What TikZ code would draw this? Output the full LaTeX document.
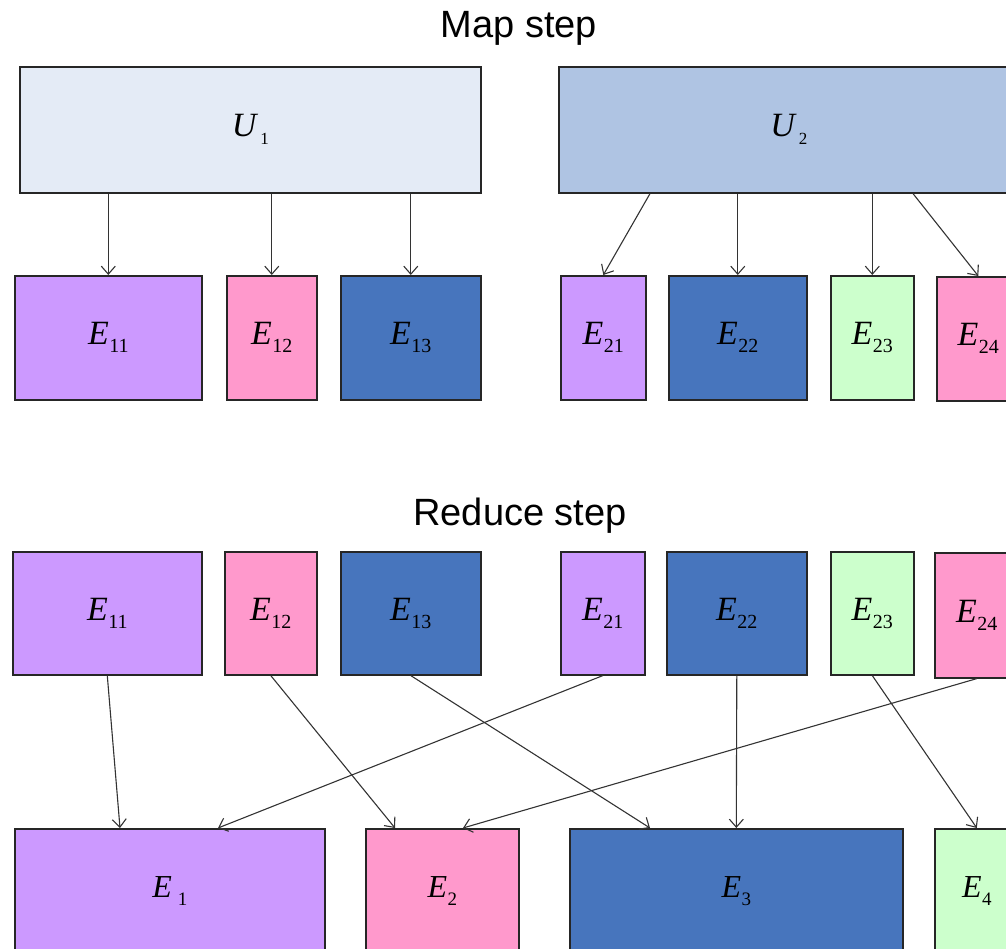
\documentclass[tikz,border=0pt]{standalone}
\usepackage{fontspec}
\setmainfont{Liberation Serif}
\newfontfamily\headfont{Liberation Sans}
\usetikzlibrary{arrows.meta,calc}

\definecolor{uone}{HTML}{E4EBF6}
\definecolor{utwo}{HTML}{AFC4E3}
\definecolor{lilac}{HTML}{CC99FF}
\definecolor{rose}{HTML}{FF99CC}
\definecolor{steel}{HTML}{4775BD}
\definecolor{mint}{HTML}{CCFFCC}

% italic symbol with a lowered upright index
\newcommand{\symlab}[5]{{\fontsize{#3}{#3}\selectfont\itshape #1}\kern#5{\fontsize{#4}{#4}\selectfont\raisebox{-8pt}{#2}}}
\newcommand{\elab}[1]{\symlab{E}{#1}{34}{20}{0.5pt}}
\newcommand{\ulab}[1]{\symlab{U}{#1}{34}{17}{4pt}}
\newcommand{\rlab}[2]{\symlab{E}{#1}{32}{19}{#2}}

\tikzset{
  box/.style={draw=black!85, line width=1.6pt, inner sep=0pt, anchor=north west},
  arr/.style={draw=black!80, line width=1.1pt, -{Straight Barb[length=8pt,width=14pt,line width=1.1pt]}},
  title/.style={font=\headfont\fontsize{38}{38}\selectfont, anchor=base}
}

\begin{document}
\begin{tikzpicture}[x=1pt,y=-1pt]
\useasboundingbox (0,0) rectangle (1006,949);
\clip (0,0) rectangle (1006,949);

% ---------- map step ----------
\node[title] (maptitle) at (519,38) {Map step};

\node[box, fill=uone, minimum width=461pt, minimum height=126pt] (u1) at (19,66) {\ulab{1}};
\node[box, fill=utwo, minimum width=460pt, minimum height=126pt] (u2) at (558,66) {\ulab{2}};

\node[box, fill=lilac, minimum width=187pt, minimum height=124pt] (m11) at (14,275) {\elab{11}};
\node[box, fill=rose,  minimum width=90pt,  minimum height=124pt] (m12) at (226,275) {\elab{12}};
\node[box, fill=steel, minimum width=140pt, minimum height=124pt] (m13) at (340,275) {\elab{13}};
\node[box, fill=lilac, minimum width=85pt,  minimum height=124pt] (m21) at (560,275) {\elab{21}};
\node[box, fill=steel, minimum width=138pt, minimum height=124pt] (m22) at (668,275) {\elab{22}};
\node[box, fill=mint,  minimum width=83pt,  minimum height=124pt] (m23) at (830,275) {\elab{23}};
\node[box, fill=rose,  minimum width=83pt,  minimum height=124pt] (m24) at (936,276) {\elab{24}};

\coordinate (u2a) at ($(u2.south west)+(92,0)$);
\coordinate (u2d) at ($(u2.south west)+(355,0)$);

\draw[arr] (m11.north |- u1.south) -- (m11.north);
\draw[arr] (m12.north |- u1.south) -- (m12.north);
\draw[arr] (m13.north |- u1.south) -- (m13.north);
\draw[arr] (u2a) -- (m21.north);
\draw[arr] (m22.north |- u2.south) -- (m22.north);
\draw[arr] (m23.north |- u2.south) -- (m23.north);
\draw[arr] (u2d) -- (m24.north);

% ---------- reduce step ----------
\node[title] (redtitle) at (520,525) {Reduce step};

\node[box, fill=lilac, minimum width=189pt, minimum height=123pt] (r11) at (12,551) {\elab{11}};
\node[box, fill=rose,  minimum width=92pt,  minimum height=123pt] (r12) at (224,551) {\elab{12}};
\node[box, fill=steel, minimum width=140pt, minimum height=123pt] (r13) at (340,551) {\elab{13}};
\node[box, fill=lilac, minimum width=84pt,  minimum height=123pt] (r21) at (560,551) {\elab{21}};
\node[box, fill=steel, minimum width=140pt, minimum height=123pt] (r22) at (666,551) {\elab{22}};
\node[box, fill=mint,  minimum width=83pt,  minimum height=123pt] (r23) at (830,551) {\elab{23}};
\node[box, fill=rose,  minimum width=84pt,  minimum height=125pt] (r24) at (934,552) {\elab{24}};

\node[box, fill=lilac, minimum width=310pt, minimum height=124pt] (s1) at (14,828) {\rlab{1}{6pt}};
\node[box, fill=rose,  minimum width=153pt, minimum height=124pt] (s2) at (365,828) {\rlab{2}{0.5pt}};
\node[box, fill=steel, minimum width=333pt, minimum height=124pt] (s3) at (569,828) {\rlab{3}{0.5pt}};
\node[box, fill=mint,  minimum width=84pt,  minimum height=124pt] (s4) at (934,828) {\rlab{4}{0.5pt}};

\coordinate (s1a) at ($(s1.north west)+(106,0)$);
\coordinate (s1b) at ($(s1.north west)+(204,0)$);
\coordinate (s2a) at ($(s2.north west)+(30,0)$);
\coordinate (s2b) at ($(s2.north west)+(98,0)$);
\coordinate (s3a) at ($(s3.north west)+(81,0)$);

\draw[arr] (r11.south) -- (s1a);
\draw[arr] (r12.south) -- (s2a);
\draw[arr] (r13.south) -- (s3a);
\draw[arr] (r21.south) -- (s1b);
\draw[arr] (r22.south) -- (s3.north);
\draw[arr] (r23.south) -- (s4.north);
\draw[arr] (r24.south) -- (s2b);
\end{tikzpicture}
\end{document}
